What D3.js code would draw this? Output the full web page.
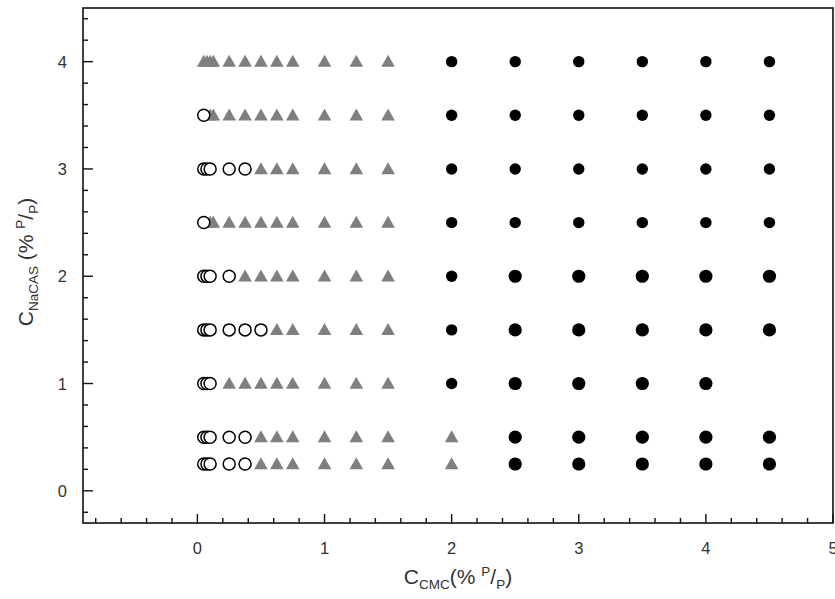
<!DOCTYPE html>
<html><head><meta charset="utf-8">
<script src="https://cdn.jsdelivr.net/npm/d3@7"></script>
<style>body{margin:0;background:#fff}svg{display:block}text{font-family:Arial,"Liberation Sans",sans-serif}</style>
</head><body>
<script>
// ---- data ----
const yLevels = [0.25, 0.5, 1, 1.5, 2, 2.5, 3, 3.5, 4];
// open circles (x values per y level)
const circleX = [
  [0.05, 0.075, 0.1, 0.25, 0.375],
  [0.05, 0.075, 0.1, 0.25, 0.375],
  [0.05, 0.075, 0.1],
  [0.05, 0.075, 0.1, 0.25, 0.375, 0.5],
  [0.05, 0.075, 0.1, 0.25],
  [0.05],
  [0.05, 0.075, 0.1, 0.25, 0.375],
  [0.05],
  []
];
// grey triangles
const triangleX = [
  [0.5, 0.625, 0.75, 1, 1.25, 1.5, 2],
  [0.5, 0.625, 0.75, 1, 1.25, 1.5, 2],
  [0.25, 0.375, 0.5, 0.625, 0.75, 1, 1.25, 1.5],
  [0.625, 0.75, 1, 1.25, 1.5],
  [0.375, 0.5, 0.625, 0.75, 1, 1.25, 1.5],
  [0.1, 0.125, 0.25, 0.375, 0.5, 0.625, 0.75, 1, 1.25, 1.5],
  [0.5, 0.625, 0.75, 1, 1.25, 1.5],
  [0.1, 0.125, 0.25, 0.375, 0.5, 0.625, 0.75, 1, 1.25, 1.5],
  [0.05, 0.075, 0.1, 0.125, 0.25, 0.375, 0.5, 0.625, 0.75, 1, 1.25, 1.5]
];
// black filled circles
const dotX = [
  [2.5, 3, 3.5, 4, 4.5],
  [2.5, 3, 3.5, 4, 4.5],
  [2, 2.5, 3, 3.5, 4],
  [2, 2.5, 3, 3.5, 4, 4.5],
  [2, 2.5, 3, 3.5, 4, 4.5],
  [2, 2.5, 3, 3.5, 4, 4.5],
  [2, 2.5, 3, 3.5, 4, 4.5],
  [2, 2.5, 3, 3.5, 4, 4.5],
  [2, 2.5, 3, 3.5, 4, 4.5]
];
const xTicks = [0, 1, 2, 3, 4, 5];
const yTicks = [0, 1, 2, 3, 4];
const xDomain = [-0.9, 5];
const yDomain = [-0.3, 4.5];

// ---- layout ----
const W = 835, H = 599;
const m = {left: 83, right: 2, top: 8, bottom: 76};
const x = d3.scaleLinear().domain(xDomain).range([m.left, W - m.right]);
const y = d3.scaleLinear().domain(yDomain).range([H - m.bottom, m.top]);

const svg = d3.select("body").append("svg").attr("width", W).attr("height", H);

function flat(arr) {
  const out = [];
  arr.forEach((xs, i) => xs.forEach(v => out.push({x: v, y: yLevels[i]})));
  return out;
}

const plot = svg.append("g");

// triangles
plot.selectAll("path.tri").data(flat(triangleX)).join("path")
  .attr("class", "tri")
  .attr("transform", d => `translate(${x(d.x)},${y(d.y)})`)
  .attr("d", "M0,-6.8L6.8,5.2L-6.8,5.2Z")
  .attr("fill", "#7f7f7f");

// open circles
plot.selectAll("circle.open").data(flat(circleX)).join("circle")
  .attr("class", "open")
  .attr("cx", d => x(d.x)).attr("cy", d => y(d.y))
  .attr("r", 6)
  .attr("fill", "#fff").attr("stroke", "#000").attr("stroke-width", 1.5);

// filled dots
plot.selectAll("circle.dot").data(flat(dotX)).join("circle")
  .attr("class", "dot")
  .attr("cx", d => x(d.x)).attr("cy", d => y(d.y))
  .attr("r", d => (d.x === 2 || d.y >= 2.5) ? 5.7 : 6.6)
  .attr("fill", "#000");

// ---- axes ----
const x0 = m.left, x1 = W - m.right, y0 = H - m.bottom, y1 = m.top;
const axisColor = "#111";
const xMinor = d3.range(-0.8, 5.001, 0.2).map(v => +v.toFixed(1));
const yMinor = d3.range(-0.2, 4.5, 0.2).map(v => +v.toFixed(1));

const ax = svg.append("g");
ax.selectAll("line.xt").data(xMinor).join("line")
  .attr("x1", d => x(d)).attr("x2", d => x(d))
  .attr("y1", y0).attr("y2", d => y0 - (Math.abs(d - Math.round(d)) < 1e-6 ? 9 : 5))
  .attr("stroke", axisColor).attr("stroke-width", 1.4);
ax.selectAll("line.yt").data(yMinor).join("line")
  .attr("y1", d => y(d)).attr("y2", d => y(d))
  .attr("x1", x0).attr("x2", d => x0 + (Math.abs(d - Math.round(d)) < 1e-6 ? 10 : 5))
  .attr("stroke", axisColor).attr("stroke-width", 1.4);

// frame
svg.append("rect").attr("x", x0).attr("y", y1).attr("width", x1 - x0).attr("height", y0 - y1)
  .attr("fill", "none").attr("stroke", axisColor).attr("stroke-width", 1.6);

// tick labels
svg.append("g").selectAll("text").data(xTicks).join("text")
  .attr("x", d => x(d)).attr("y", y0 + 31)
  .attr("text-anchor", "middle").attr("font-size", 16.5).attr("fill", "#333")
  .text(d => d);
svg.append("g").selectAll("text").data(yTicks).join("text")
  .attr("x", x0 - 16).attr("y", d => y(d) + 6)
  .attr("text-anchor", "end").attr("font-size", 16.5).attr("fill", "#333")
  .text(d => d);

// axis titles
const xt = svg.append("text").attr("x", 458).attr("y", 584)
  .attr("text-anchor", "middle").attr("font-size", 21).attr("fill", "#333");
xt.append("tspan").text("C");
xt.append("tspan").attr("font-size", 13.5).attr("dy", 5).text("CMC");
xt.append("tspan").attr("dy", -5).text("(% ");
xt.append("tspan").attr("font-size", 13.5).attr("dy", -8).text("P");
xt.append("tspan").attr("dy", 8).text("/");
xt.append("tspan").attr("font-size", 13.5).attr("dy", 5).text("P");
xt.append("tspan").attr("dy", -5).text(")");

const yt = svg.append("text").attr("transform", "translate(33,262) rotate(-90)")
  .attr("text-anchor", "middle").attr("font-size", 21).attr("fill", "#333");
yt.append("tspan").text("C");
yt.append("tspan").attr("font-size", 13.5).attr("dy", 5).text("NaCAS");
yt.append("tspan").attr("dy", -5).text(" (% ");
yt.append("tspan").attr("font-size", 13.5).attr("dy", -8).text("P");
yt.append("tspan").attr("dy", 8).text("/");
yt.append("tspan").attr("font-size", 13.5).attr("dy", 5).text("P");
yt.append("tspan").attr("dy", -5).text(")");
</script>
</body></html>
